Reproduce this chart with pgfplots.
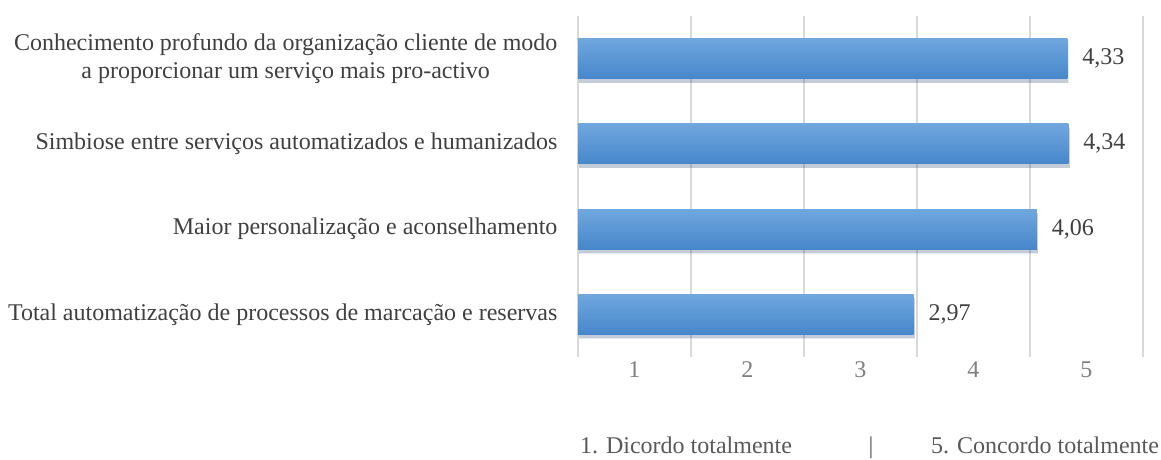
\documentclass[border=0pt]{standalone}
\usepackage{fontspec}
\setmainfont{Liberation Serif}
\usepackage{pgfplots}
\pgfplotsset{compat=1.18}
\usetikzlibrary{shadows}

\definecolor{barTop}{HTML}{70A7DE}
\definecolor{barBot}{HTML}{4687CB}
\definecolor{gridGray}{HTML}{D9D9D9}
\definecolor{labGray}{HTML}{404040}
\definecolor{tickGray}{HTML}{7F7F7F}
\definecolor{noteGray}{HTML}{595959}

\newcommand{\chartfont}{\fontsize{12}{14}\selectfont}

\pgfplotsset{
    onebar/.style={draw=none, top color=barTop, bottom color=barBot,
        drop shadow={shadow xshift=0.6pt, shadow yshift=-2pt, fill=black, opacity=0.15}},
}

\begin{document}
\begin{tikzpicture}
\useasboundingbox (-289pt,-51.5pt) rectangle (291.5pt,178.5pt);
\begin{axis}[
    at={(0,0)}, anchor=south west,
    width=282.5pt, height=170.5pt, scale only axis,
    xbar, bar width=20pt, bar shift=0pt,
    xmin=0, xmax=5, ymin=-0.5, ymax=3.5,
    xtick={0.5,1.5,2.5,3.5,4.5},
    xticklabels={1,2,3,4,5},
    minor xtick={0,1,2,3,4,5},
    xminorgrids=true,
    minor grid style={gridGray, line width=0.7pt},
    ytick={0,1,2,3},
    yticklabels={
        Total automatização de processos de marcação e reservas,
        Maior personalização e aconselhamento,
        Simbiose entre serviços automatizados e humanizados,
        {Conhecimento profundo da organização cliente de modo\\a proporcionar um serviço mais pro-activo}},
    yticklabel style={align=center, text=labGray, font=\chartfont},
    yticklabel shift=2.5pt,
    xticklabel style={text=tickGray, font=\chartfont},
    xticklabel shift=-1pt,
    tick style={draw=none},
    axis line style={draw=none},
    /pgf/number format/assume math mode=true,
    nodes near coords,
    nodes near coords style={text=labGray, font=\chartfont, xshift=4pt,
        /pgf/number format/.cd, fixed, fixed zerofill, precision=2, use comma},
]
\addplot[onebar] coordinates {(2.97,0)};
\addplot[onebar] coordinates {(4.06,1)};
\addplot[onebar] coordinates {(4.34,2)};
\addplot[onebar] coordinates {(4.33,3)};
\end{axis}
\node[text=noteGray, font=\chartfont, inner sep=0pt, anchor=base] at (54pt,-48.5pt) {1. Dicordo totalmente};
\node[text=noteGray, font=\chartfont, inner sep=0pt, anchor=base] at (146.5pt,-48.5pt) {|};
\node[text=noteGray, font=\chartfont, inner sep=0pt, anchor=base] at (233.5pt,-48.5pt) {5. Concordo totalmente};
\end{tikzpicture}
\end{document}
